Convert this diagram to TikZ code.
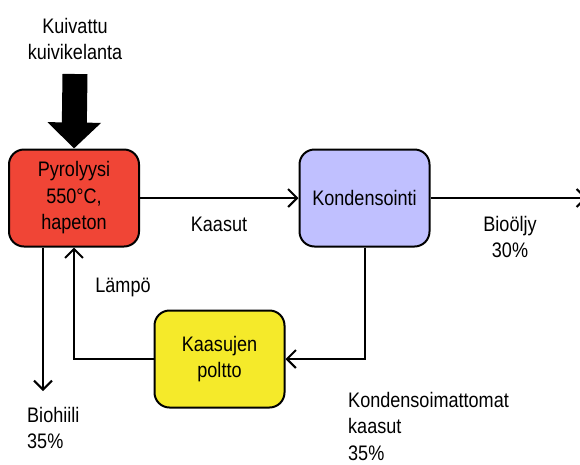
\documentclass[tikz,border=0pt]{standalone}
\usepackage{fontspec}
\setmainfont{Liberation Sans}[FakeStretch=0.86]
\usetikzlibrary{arrows.meta}
\definecolor{pyrored}{HTML}{F04536}
\definecolor{kondblue}{HTML}{C0C0FF}
\definecolor{burnyellow}{HTML}{F5EA2A}
\tikzset{
  stage/.style={draw, line width=2pt, rounded corners=15pt, minimum width=130pt, minimum height=97pt, align=center, inner sep=0pt},
  flow/.style={line width=2pt, -{Straight Barb[length=9pt,width=18pt]}},
  lbl/.style={inner sep=0pt, align=left}
}
\begin{document}
\begin{tikzpicture}[x=1pt,y=-1pt,font=\fontsize{21}{26.5}\selectfont]
\useasboundingbox (0,0) rectangle (580,464);
\node[stage, fill=pyrored] (pyro) at (74,198) {Pyrolyysi\\550°C,\\hapeton};
\node[stage, fill=kondblue] (kond) at (364.5,198) {Kondensointi};
\node[stage, fill=burnyellow] (burn) at (219.5,359) {Kaasujen\\poltto};
\node[lbl, anchor=north, align=center] (feed) at (75,18) {Kuivattu\\kuivikelanta};
\coordinate (feedtop) at (75,74);
\coordinate (oilend) at (587,198);
\coordinate (charend) at (43,391);
\draw[line width=25pt, -{Triangle[length=26pt,width=52pt]}] (feedtop) -- (pyro.north);
\draw[flow] (pyro) -- (kond);
\draw[flow] (kond) -- (oilend);
\draw[flow] (kond.south) |- (burn.east);
\draw[flow] (burn.west) -| (pyro.south);
\draw[flow] (pyro.south -| charend) -- (charend);
\node[lbl] (gas) at (219,224) {Kaasut};
\node[lbl, align=center] (oil) at (510,237) {Bioöljy\\30\%};
\node[lbl] (heat) at (123,287) {Lämpö};
\node[lbl, anchor=north west] (char) at (27,407) {Biohiili\\35\%};
\node[lbl, anchor=north west] (rest) at (348,392) {Kondensoimattomat\\kaasut\\35\%};
\end{tikzpicture}
\end{document}
